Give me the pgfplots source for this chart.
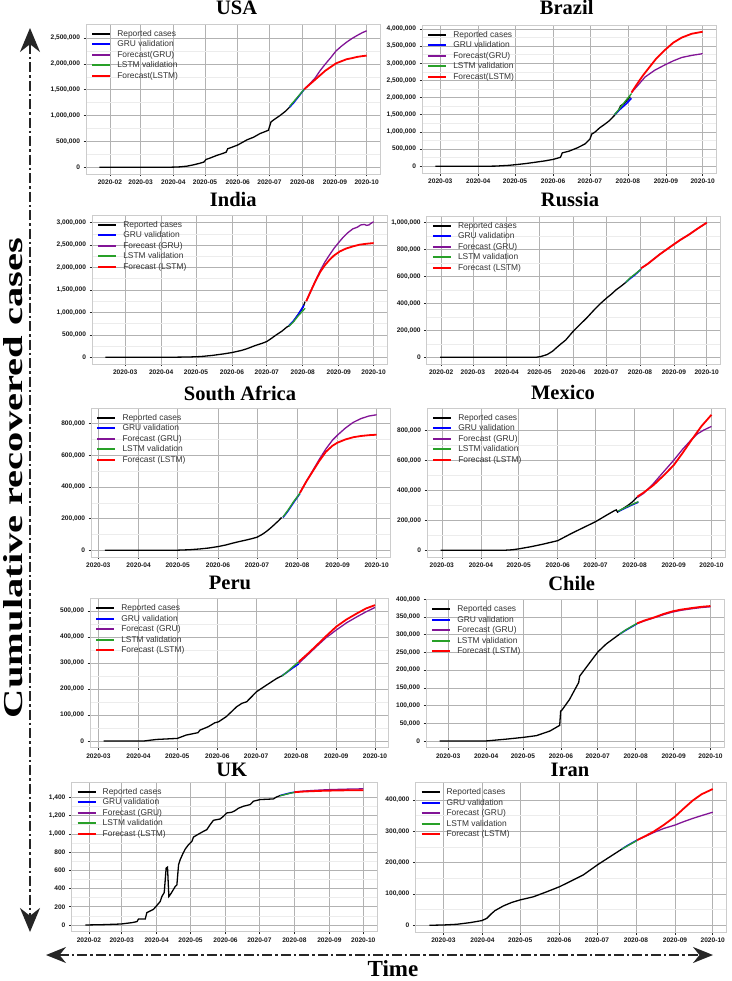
\documentclass[border=0pt]{standalone}
\usepackage{fontspec}
\setmainfont{Liberation Serif}
\newfontfamily\arial{Liberation Sans}
\usepackage{pgfplots}
\pgfplotsset{compat=1.18}
\usetikzlibrary{arrows.meta}
\definecolor{cblue}{RGB}{0,0,255}
\definecolor{cpurple}{RGB}{130,20,150}
\definecolor{cgreen}{RGB}{40,160,40}
\definecolor{cred}{RGB}{255,0,0}
\pgfplotsset{
  panel/.style={scale only axis, anchor=north west, enlargelimits=0.05,
    axis background/.style={fill=white},
    axis line style={gray!40, line width=0.9pt},
    grid=both, major grid style={gray!60, line width=0.6pt},
    minor grid style={gray!15, line width=0.5pt},
    minor x tick num=1, minor y tick num=1, minor tick length=0pt,
    major tick length=2.5pt, tick align=outside, tick pos=left,
    every tick/.style={black!85, line width=0.6pt},
    scaled y ticks=false,
    /pgf/number format/fixed, /pgf/number format/1000 sep={,},
    /pgf/number format/assume math mode=true,
    tick label style={font=\arial\bfseries\fontsize{6.6}{7}\selectfont, text=black!90},
    legend cell align=left,
    legend image code/.code={\draw[##1, line width=2pt] (0pt,0pt) -- (18pt,0pt);},
    legend style={at={(0,1)}, anchor=north west, xshift=4pt, yshift=-3.5pt,
      draw=none, fill=none, inner sep=1pt, row sep=0pt,
      font=\arial\fontsize{8.4}{10}\selectfont, text=black!80,
      nodes={inner sep=1.1pt, text height=6.5pt, text depth=1.8pt},
      /tikz/every odd column/.append style={column sep=5pt}},
  },
  feb/.style={xtick={31,60,91,121,152,182,213,244,274},
    xticklabels={2020-02,2020-03,2020-04,2020-05,2020-06,2020-07,2020-08,2020-09,2020-10}},
  mar/.style={xtick={60,91,121,152,182,213,244,274},
    xticklabels={2020-03,2020-04,2020-05,2020-06,2020-07,2020-08,2020-09,2020-10}},
  rep/.style={black, line width=1.3pt},
  gval/.style={cblue, line width=1.6pt},
  gfc/.style={cpurple, line width=1.3pt},
  lval/.style={cgreen, line width=1.3pt},
  lfc/.style={cred, line width=1.8pt},
}
\newcommand{\legA}{\legend{Reported cases, GRU validation, Forecast(GRU), LSTM validation, Forecast(LSTM)}}
\newcommand{\legB}{\legend{Reported cases, GRU validation, Forecast (GRU), LSTM validation, Forecast (LSTM)}}
\begin{document}
\begin{tikzpicture}
\tikzset{ttl/.style={anchor=base, font=\bfseries\fontsize{20.5}{22}\selectfont}}
% ---------------- USA
\begin{axis}[panel, feb, at={(86pt,-24pt)}, width=294pt, height=150pt,
  ytick={0,500000,1000000,1500000,2000000,2500000}]
\addplot[rep] coordinates {(21,0)(88,0)(91,1000)(97,6000)(104,20000)(110,45000)(116,75000)(120,100000)(122,150000)(125,170000)(132,227000)(137,260000)(141,290000)(142.5,357000)(147,390000)(152,430000)(161,532000)(167,580000)(173,650000)(181,714000)(183.5,877000)(187,930000)(192,1000000)(197,1080000)(201,1160000)};
\addplot[gval] coordinates {(201,1160000)(205,1250000)(210,1380000)(215,1510000)};
\addplot[gfc] coordinates {(215,1510000)(220,1610000)(225,1720000)(230,1870000)(235,2000000)(240,2120000)(245,2250000)(250,2340000)(255,2420000)(260,2490000)(265,2550000)(270,2605000)(274,2640000)};
\addplot[lval] coordinates {(201,1175000)(205,1270000)(210,1390000)(215,1510000)};
\addplot[lfc] coordinates {(215,1510000)(220,1600000)(225,1690000)(230,1780000)(235,1870000)(240,1940000)(245,2010000)(250,2050000)(255,2090000)(260,2110000)(265,2135000)(270,2150000)(274,2160000)};
\legA
\end{axis}
\node[ttl] at (236.7pt,-15pt) {USA};
% ---------------- Brazil
\begin{axis}[panel, mar, at={(422pt,-25pt)}, width=294pt, height=148pt,
  ytick={0,500000,1000000,1500000,2000000,2500000,3000000,3500000,4000000}]
\addplot[rep] coordinates {(56,0)(95,0)(105,5000)(115,25000)(121,45000)(130,80000)(138,120000)(145,155000)(152,200000)(158,260000)(158.5,300000)(159.5,390000)(165,440000)(172,540000)(178,650000)(182,790000)(183.6,940000)(186,990000)(190,1120000)(194,1220000)(198,1330000)(202,1480000)(205,1600000)(207,1760000)(210,1830000)(213,1950000)(215,2030000)};
\addplot[gval] coordinates {(202,1500000)(206,1640000)(211,1800000)(216,1980000)};
\addplot[gfc] coordinates {(216,2150000)(221,2350000)(227,2600000)(235,2800000)(243,2950000)(250,3070000)(257,3170000)(265,3230000)(274,3280000)};
\addplot[lval] coordinates {(202,1500000)(206,1670000)(211,1900000)(216,2120000)};
\addplot[lfc] coordinates {(216,2150000)(220,2370000)(225,2630000)(230,2860000)(236,3130000)(243,3380000)(250,3600000)(257,3750000)(265,3860000)(274,3920000)};
\legA
\end{axis}
\node[ttl] at (566.7pt,-14.5pt) {Brazil};
% ---------------- India
\begin{axis}[panel, mar, at={(92pt,-215pt)}, width=295pt, height=149pt,
  ytick={0,500000,1000000,1500000,2000000,2500000,3000000}]
\addplot[rep] coordinates {(43,0)(100,0)(115,5000)(125,15000)(135,40000)(145,75000)(152,104000)(160,150000)(165,190000)(172,260000)(178,310000)(182,350000)(186,420000)(190,496000)(195,580000)(199,667000)(201,700000)(205,800000)(209,950000)(213,1100000)(215,1240000)};
\addplot[gval] coordinates {(201,700000)(205,810000)(209,950000)(214,1160000)};
\addplot[gfc] coordinates {(216,1250000)(220,1480000)(224,1710000)(228,1930000)(232,2120000)(236,2280000)(240,2430000)(244,2560000)(248,2680000)(252,2780000)(256,2860000)(260,2900000)(263,2950000)(266,2960000)(268,2940000)(270,2950000)(272,2990000)(274,3020000)};
\addplot[lval] coordinates {(201,690000)(205,790000)(209,920000)(215,1090000)};
\addplot[lfc] coordinates {(216,1250000)(220,1480000)(224,1700000)(228,1900000)(232,2050000)(236,2170000)(240,2270000)(245,2360000)(250,2420000)(256,2470000)(262,2510000)(268,2530000)(274,2545000)};
\legB
\end{axis}
\node[ttl] at (233.3pt,-207pt) {India};
% ---------------- Russia
\begin{axis}[panel, feb, at={(426.7pt,-216pt)}, width=293.3pt, height=148pt,
  ytick={0,200000,400000,600000,800000,1000000}]
\addplot[rep] coordinates {(30,0)(118,0)(122,5000)(128,20000)(133,45000)(136,67000)(140,95000)(145,128000)(151,185000)(157,235000)(164,290000)(170,343000)(176,393000)(182,437000)(187,470000)(191,500000)(196,530000)(200,556000)};
\addplot[gval] coordinates {(200,556000)(204,585000)(208,610000)(214,654000)};
\addplot[gfc] coordinates {(214,661000)(220,693000)(231,764000)(243,833000)(250,872000)(258,912000)(266,957000)(274,999000)};
\addplot[lval] coordinates {(200,556000)(204,590000)(208,615000)(214,654000)};
\addplot[lfc] coordinates {(214,661000)(220,693000)(231,764000)(243,833000)(250,872000)(258,912000)(266,957000)(274,999000)};
\legB
\end{axis}
\node[ttl] at (570pt,-207pt) {Russia};
% ---------------- South Africa
\begin{axis}[panel, mar, at={(91.2pt,-408pt)}, width=299pt, height=149pt,
  ytick={0,200000,400000,600000,800000}]
\addplot[rep] coordinates {(65,0)(120,0)(130,3000)(138,8000)(145,14000)(152,23000)(158,33000)(163,44000)(168,54000)(174,65000)(178,73000)(182,82000)(186,100000)(189,117000)(192,137000)(195,159000)(198,182000)(201,207000)};
\addplot[gval] coordinates {(202,207000)(206,250000)(210,300000)(215,358000)};
\addplot[gfc] coordinates {(215,362000)(220,435000)(225,505000)(230,575000)(235,640000)(240,695000)(244,728000)(250,772000)(256,808000)(262,832000)(268,848000)(274,856000)};
\addplot[lval] coordinates {(202,210000)(206,255000)(210,305000)(215,360000)};
\addplot[lfc] coordinates {(215,362000)(220,435000)(225,500000)(230,565000)(235,622000)(240,660000)(244,680000)(250,700000)(256,714000)(262,722000)(268,727000)(274,730000)};
\legB
\end{axis}
\node[ttl] at (240pt,-400.5pt) {South Africa};
% ---------------- Mexico
\begin{axis}[panel, mar, at={(427pt,-408pt)}, width=298pt, height=149pt,
  ytick={0,200000,400000,600000,800000}]
\addplot[rep] coordinates {(59,0)(110,0)(116,3000)(121,9000)(131,24000)(140,40000)(152,64000)(163,113000)(172,150000)(182,191000)(191,236000)(197,265000)(198.5,270000)(199.5,255000)(203,275000)(207,296000)(211,322000)(215,355000)};
\addplot[gval] coordinates {(200,260000)(205,280000)(210,300000)(216,322000)};
\addplot[gfc] coordinates {(215,352000)(220,380000)(228,447000)(236,525000)(244,602000)(251,675000)(258,740000)(263,780000)(268,805000)(274,829000)};
\addplot[lval] coordinates {(200,262000)(205,283000)(210,303000)(216,325000)};
\addplot[lfc] coordinates {(215,358000)(220,385000)(228,436000)(236,500000)(244,569000)(251,650000)(258,736000)(266,830000)(274,907000)};
\legB
\end{axis}
\node[ttl] at (563pt,-399.5pt) {Mexico};
% ---------------- Peru
\begin{axis}[panel, mar, at={(90pt,-598.3pt)}, width=298.6pt, height=149.5pt,
  ytick={0,100000,200000,300000,400000,500000}]
\addplot[rep] coordinates {(64,0)(95,0)(105,6000)(121,10000)(128,23000)(135,30000)(137,32000)(138.6,42000)(145,55000)(150,70000)(153,74000)(159,94000)(167,132000)(171,145000)(174.7,151000)(182.4,190000)(190,215000)(198,241000)(202,251000)};
\addplot[gval] coordinates {(202,251000)(206,265000)(210,280000)(215,297000)};
\addplot[gfc] coordinates {(215,299000)(222,332000)(229,365000)(236,397000)(244,427000)(252,455000)(260,478000)(267,497000)(274,514000)};
\addplot[lval] coordinates {(202,250000)(206,266000)(210,284000)(215,305000)};
\addplot[lfc] coordinates {(215,305000)(222,336000)(229,369000)(236,403000)(244,440000)(252,468000)(260,491000)(267,510000)(274,523000)};
\legB
\end{axis}
\node[ttl] at (230pt,-589.5pt) {Peru};
% ---------------- Chile
\begin{axis}[panel, mar, at={(426pt,-599.3pt)}, width=298pt, height=148.4pt,
  ytick={0,50000,100000,150000,200000,250000,300000,350000,400000}, minor y tick num=0]
\addplot[rep] coordinates {(53,0)(91,0)(107,5000)(121,10000)(132,15000)(143,28000)(151,44000)(151.8,84000)(153,88000)(159,117000)(164.6,153000)(166.5,165000)(167.3,183000)(175.5,221000)(182.3,252000)(189,274000)(194.5,288000)(200,302000)};
\addplot[gval] coordinates {(200,302000)(205,313000)(210,323000)(214,331000)};
\addplot[gfc] coordinates {(214,331000)(220,339000)(229,349000)(236,357000)(243,364000)(250,369000)(260,374000)(267,377000)(274,379000)};
\addplot[lval] coordinates {(200,302000)(205,314000)(210,324000)(214,332000)};
\addplot[lfc] coordinates {(214,332000)(220,340000)(229,350000)(236,359000)(243,366000)(250,371000)(260,376000)(267,379000)(274,381000)};
\legB
\end{axis}
\node[ttl] at (571.7pt,-590pt) {Chile};
% ---------------- UK
\begin{axis}[panel, feb, at={(71.4pt,-782pt)}, width=305.8pt, height=149.8pt,
  ytick={0,200,400,600,800,1000,1200,1400}]
\addplot[rep] coordinates {(27.8,0)(44,4)(59.6,11)(69.1,26)(73.5,37)(75,66)(80.9,66)(82.3,136)(88.2,172)(90.3,202)(94.1,257)(95.6,312)(97.7,356)(99.4,624)(100.6,635)(101.8,312)(103.9,349)(107.4,422)(108.9,440)(110.4,661)(111.8,716)(114.2,782)(116.3,833)(119.2,881)(122.2,917)(123.6,965)(127.2,991)(132.5,1028)(135.4,1046)(138.4,1101)(141.3,1149)(147.2,1163)(150.2,1193)(153.1,1229)(157.5,1237)(160.5,1255)(163.4,1281)(167.9,1303)(173.8,1321)(176.7,1358)(182.6,1376)(194.4,1383)(196.8,1402)(200.3,1420)};
\addplot[gval] coordinates {(200.3,1420)(205,1435)(209,1447)(213,1457)};
\addplot[gfc] coordinates {(213,1460)(220,1468)(227,1474)(235,1480)(244,1485)(255,1489)(265,1492)(274,1494)};
\addplot[lval] coordinates {(200.3,1418)(205,1432)(209,1445)(213,1455)};
\addplot[lfc] coordinates {(213,1457)(220,1463)(227,1467)(235,1471)(244,1474)(255,1477)(265,1478)(274,1479)};
\legB
\end{axis}
\node[ttl] at (231.7pt,-776pt) {UK};
% ---------------- Iran
\begin{axis}[panel, mar, at={(415.3pt,-782.2pt)}, width=311.6pt, height=149.9pt,
  ytick={0,100000,200000,300000,400000}]
\addplot[rep] coordinates {(48.9,0)(60,1000)(70.6,3200)(81.2,8500)(90.5,15000)(94.4,22000)(98.4,38000)(101,47000)(107.7,62000)(114.3,73000)(120.9,81000)(131.5,91000)(142.1,107000)(152.2,123000)(163.3,145000)(171.2,161000)(182.4,193000)(192.4,219000)(201.7,243000)};
\addplot[gval] coordinates {(201.7,243000)(206,254000)(210,263000)(214,272000)};
\addplot[gfc] coordinates {(214,272000)(220,283000)(227,296000)(235,309000)(244,320000)(251,331000)(258,341000)(265,350000)(274,361000)};
\addplot[lval] coordinates {(201.7,243000)(206,253000)(210,262000)(214,271000)};
\addplot[lfc] coordinates {(214,272000)(220,284000)(227,299000)(235,320000)(244,347000)(251,373000)(258,398000)(265,418000)(274,435000)};
\legB
\end{axis}
\node[ttl] at (570pt,-776pt) {Iran};
% ---------------- outer arrows and labels
\draw[black!85, line width=1.8pt, dash pattern=on 10pt off 3pt on 2.5pt off 3pt,
  {Stealth[length=24pt,width=20pt]}-{Stealth[length=24pt,width=20pt]}] (30pt,-28pt) -- (30pt,-932pt);
\draw[black!85, line width=1.8pt, dash pattern=on 10pt off 3pt on 2.5pt off 3pt,
  {Stealth[length=20pt,width=16pt]}-{Stealth[length=20pt,width=16pt]}] (46pt,-955pt) -- (713pt,-955pt);
\node[rotate=90, font=\bfseries] at (13pt,-478pt) {\resizebox{480pt}{19pt}{Cumulative recovered cases}};
\node[anchor=base, font=\bfseries\fontsize{23}{25}\selectfont] at (393pt,-976pt) {Time};
\pgfresetboundingbox
\path (0pt,0pt) rectangle (731pt,-981pt);
\end{tikzpicture}
\end{document}
